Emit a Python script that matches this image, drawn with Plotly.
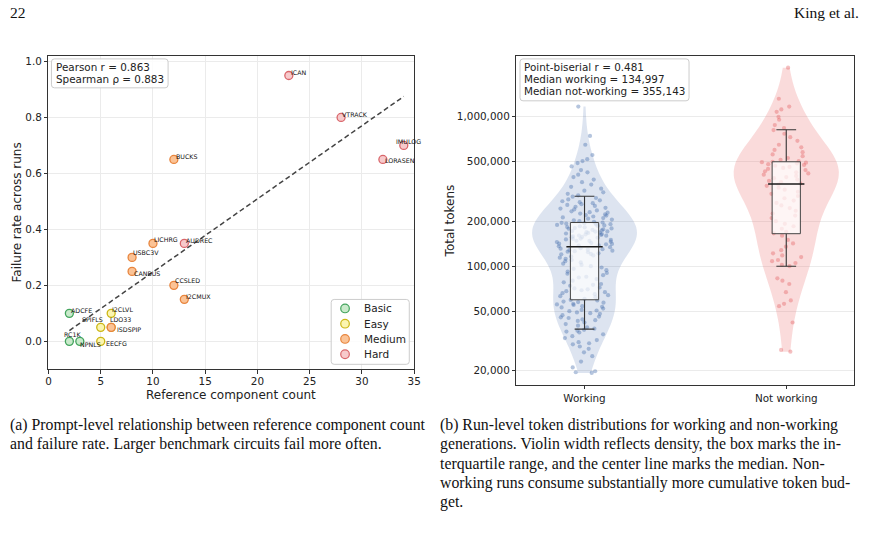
import numpy as np
import plotly.graph_objects as go

W, H = 872, 541

# ---------------- Data: panel (a) ----------------
circuits = ["ADCFE", "RC1K", "NPNLS", "SPIFLS", "EECFG", "I2CLVL", "LDO33", "ISDSPIP",
            "CANBUS", "USBC3V", "LICHRG", "AUDREC", "CCSLED", "I2CMUX", "BUCKS",
            "ICAN", "VTRACK", "IMULOG", "LORASEN"]
component_count = [2, 2, 3, 5, 5, 6, 6, 6, 8, 8, 10, 13, 12, 13, 12, 23, 28, 34, 32]
failure_rate = [0.10, 0.00, 0.00, 0.05, 0.00, 0.10, 0.05, 0.05, 0.25, 0.30, 0.35, 0.35,
                0.20, 0.15, 0.65, 0.95, 0.80, 0.70, 0.65]
difficulty = ["Basic", "Basic", "Basic", "Easy", "Easy", "Easy", "Easy", "Medium",
              "Medium", "Medium", "Medium", "Hard", "Medium", "Medium", "Medium",
              "Hard", "Hard", "Hard", "Hard"]
difficulty_levels = ["Basic", "Easy", "Medium", "Hard"]
x_ticks_a = [0, 5, 10, 15, 20, 25, 30, 35]
y_ticks_a = [0.0, 0.2, 0.4, 0.6, 0.8, 1.0]

# ---------------- Data: panel (b) (tokens, thousands) ----------------
working_k = [
    19.3, 19.5, 19.8, 21, 23, 25, 26.5, 28, 29, 30, 30.5, 31, 32, 33, 34, 35, 36, 36.5, 37, 37.5,
    38.2, 39, 40, 41, 42, 43, 43.5, 44, 45, 45.5, 46, 47, 48, 48.5, 49, 50, 50.5, 51, 52, 53,
    53.5, 54, 55, 55.5, 56, 57, 57.5, 58, 59, 59.5,
    60.5, 62, 63, 64, 65, 66, 67, 68, 69, 70, 71, 72, 74, 75, 76, 78, 80, 82, 84, 85,
    87, 89, 90, 92, 94, 96, 98, 100, 102, 104, 106, 108, 110, 112, 114, 116, 118, 120, 121, 122,
    124, 125, 126, 127, 128, 129, 130, 131, 132, 134,
    136, 137.5, 138, 140, 141, 141.5, 143, 145, 146, 147.5, 148, 150, 151, 152.5, 153, 155, 156,
    157, 158.5, 160, 160.5, 162, 163, 164, 165.5, 167, 168, 169, 170.5, 171, 172, 174, 175, 176.5,
    178, 179, 180, 182, 183, 185, 186, 187.5, 189, 190, 191, 192.5, 193, 194, 195, 196,
    198, 200, 203, 205, 208, 210, 212, 215, 218, 220, 222, 225, 228, 230, 233, 236, 240, 243,
    246, 250, 253, 257, 260, 264, 268, 272, 276, 280, 286, 292,
    298, 305, 312, 320, 330, 340, 352, 365, 380, 395, 410, 425, 440, 465, 490, 505, 520, 555,
    650, 745, 1170]
not_working_k = [
    26.8, 27.5, 42, 54, 56, 59, 67, 76, 80, 83,
    100, 102, 105, 108, 110, 115, 118, 122, 128, 135, 142, 150, 160,
    166, 170, 178, 185, 192, 200, 210, 218, 225, 235, 245, 255, 265, 275, 285, 295, 305, 315,
    325, 335, 345, 352,
    358, 365, 372, 380, 388, 395, 402, 410, 418, 425, 432, 440, 448, 455, 462, 470, 476, 482,
    488, 493, 497, 500,
    505, 515, 530, 545, 560, 580, 600, 625, 650, 690, 730, 770, 815,
    840, 880, 955, 1000, 1080, 1120, 1170, 1320, 2130]
groups_b = ["Working", "Not working"]
# box statistics (whisker low, q1, median, q3, whisker high)
box_whisker_lo = [37900, 100000]
box_q1 = [59600, 165000]
box_median = [134997, 355143]
box_q3 = [196000, 500000]
box_whisker_hi = [294000, 818000]
y_ticks_b = [20000, 50000, 100000, 200000, 500000, 1000000]
y_ticks_b_text = ["20,000", "50,000", "100,000", "200,000", "500,000", "1,000,000"]

# ---------------- Styles ----------------
FONT = "DejaVu Sans"
SERIF = "Liberation Serif"
TXT = "#222222"
diff_fill = {"Basic": "#c9eacb", "Easy": "#fbf5b0", "Medium": "#fbc396", "Hard": "#f7cacc"}
diff_edge = {"Basic": "#43a45d", "Easy": "#ccb716", "Medium": "#e8853d", "Hard": "#d9666b"}
label_offsets = {  # (dx px, dy px up, anchor)
    "LICHRG": (1, 4, "left"), "AUDREC": (2, 3, "left"), "USBC3V": (1, 5, "left"),
    "CANBUS": (2, -2, "left"), "CCSLED": (1, 5, "left"), "I2CMUX": (2, 3, "left"),
    "ADCFE": (2, 3, "left"), "I2CLVL": (1, 4, "left"), "SPIFLS": (2, 8, "right"),
    "LDO33": (-1, 8, "left"), "ISDSPIP": (6, -2, "left"), "RC1K": (-5, 7, "left"),
    "NPNLS": (0, -3, "left"), "EECFG": (5, -2, "left"), "ICAN": (2, 3, "left"),
    "VTRACK": (1, 3, "left"), "IMULOG": (-8, 4, "left"), "LORASEN": (2, -1, "left"),
    "BUCKS": (2, 3, "left"),
}


def px(x):
    return x / W


def py(y):
    return 1 - y / H


def rounded_rect(x0, y0, x1, y1, r=3):
    pts = [
        f"M {px(x0 + r)} {py(y0)}", f"L {px(x1 - r)} {py(y0)}",
        f"Q {px(x1)} {py(y0)} {px(x1)} {py(y0 + r)}", f"L {px(x1)} {py(y1 - r)}",
        f"Q {px(x1)} {py(y1)} {px(x1 - r)} {py(y1)}", f"L {px(x0 + r)} {py(y1)}",
        f"Q {px(x0)} {py(y1)} {px(x0)} {py(y1 - r)}", f"L {px(x0)} {py(y0 + r)}",
        f"Q {px(x0)} {py(y0)} {px(x0 + r)} {py(y0)} Z",
    ]
    return " ".join(pts)


def note(x, y, text, size, family=FONT, anchor="left", color=TXT, angle=0):
    return dict(x=px(x), y=py(y), xref="paper", yref="paper", text=text, showarrow=False,
                xanchor=anchor, yanchor="middle", borderpad=0, borderwidth=0, textangle=angle,
                font=dict(family=family, size=size, color=color))


fig = go.Figure()

# ---------------- Panel (a) ----------------
xa = np.array(component_count, dtype=float)
ya = np.array(failure_rate, dtype=float)
slope, intercept = np.polyfit(xa, ya, 1)
xfit = np.array([xa.min(), xa.max()])
fig.add_trace(go.Scatter(x=xfit, y=slope * xfit + intercept, mode="lines",
                         line=dict(color="#444444", width=1.5, dash="5px,3px"),
                         xaxis="x", yaxis="y", showlegend=False, hoverinfo="skip"))
for lvl in difficulty_levels:
    idx = [i for i, d in enumerate(difficulty) if d == lvl]
    fig.add_trace(go.Scatter(
        x=[component_count[i] for i in idx], y=[failure_rate[i] for i in idx],
        mode="markers", name=lvl, showlegend=False,
        marker=dict(size=8, color=diff_fill[lvl], line=dict(color=diff_edge[lvl], width=1.3)),
        xaxis="x", yaxis="y"))

annotations = []
for i, name in enumerate(circuits):
    dx, dy, anc = label_offsets[name]
    annotations.append(dict(x=component_count[i], y=failure_rate[i], xref="x", yref="y",
                            text=name, showarrow=False, xanchor=anc, yanchor="middle",
                            xshift=dx, yshift=dy, borderpad=0, borderwidth=0,
                            font=dict(family=FONT, size=6.3, color="#111111")))

# ---------------- Panel (b) ----------------
violin_fill = ["rgba(76,114,176,0.19)", "rgba(235,110,110,0.25)"]
point_col = ["rgba(70,110,172,0.40)", "rgba(228,98,100,0.40)"]
for gi, vals in enumerate([working_k, not_working_k]):
    lv = np.log10(np.array(vals) * 1000.0)
    fig.add_trace(go.Violin(
        y=lv, x0=gi, name=groups_b[gi], width=0.52, scalemode="width", spanmode="hard",
        fillcolor=violin_fill[gi], line=dict(color="rgba(0,0,0,0)", width=0),
        points="all", pointpos=0, jitter=0.55,
        marker=dict(size=4.2, color=point_col[gi], line=dict(width=0)),
        box_visible=False, meanline_visible=False, showlegend=False, hoverinfo="y",
        xaxis="x2", yaxis="y2"))

bw, mw, cw = 0.07, 0.09, 0.049
for gi in range(2):
    c = gi
    q1, q3 = np.log10(box_q1[gi]), np.log10(box_q3[gi])
    lo, hi = np.log10(box_whisker_lo[gi]), np.log10(box_whisker_hi[gi])
    md = np.log10(box_median[gi])
    fig.add_trace(go.Scatter(x=[c, c, None, c, c], y=[q1, lo, None, q3, hi], mode="lines",
                             line=dict(color="#333333", width=1.1), xaxis="x2", yaxis="y2",
                             showlegend=False, hoverinfo="skip"))
    fig.add_trace(go.Scatter(x=[c - cw, c + cw, None, c - cw, c + cw], y=[lo, lo, None, hi, hi],
                             mode="lines", line=dict(color="#333333", width=1.1),
                             xaxis="x2", yaxis="y2", showlegend=False, hoverinfo="skip"))
    fig.add_trace(go.Scatter(x=[c - bw, c + bw, c + bw, c - bw, c - bw], y=[q1, q1, q3, q3, q1],
                             mode="lines", fill="toself", fillcolor="rgba(255,255,255,0.72)",
                             line=dict(color="#444444", width=1.0), xaxis="x2", yaxis="y2",
                             showlegend=False, hoverinfo="skip"))
    fig.add_trace(go.Scatter(x=[c - mw, c + mw], y=[md, md], mode="lines",
                             line=dict(color="#1a1a1a", width=1.6), xaxis="x2", yaxis="y2",
                             showlegend=False, hoverinfo="skip"))

shapes = []
box_style = dict(xref="paper", yref="paper", line=dict(color="#cccccc", width=1),
                 fillcolor="rgba(255,255,255,0.85)", layer="above")
shapes.append(dict(type="path", path=rounded_rect(49, 58, 167, 87), **box_style))
shapes.append(dict(type="path", path=rounded_rect(523, 58, 694, 100), **box_style))
shapes.append(dict(type="path", path=rounded_rect(332, 299, 411, 364), **box_style))
for k, lvl in enumerate(difficulty_levels):
    cy = 308 + k * 15.3
    shapes.append(dict(type="circle", xref="paper", yref="paper", xsizemode="pixel", ysizemode="pixel",
                       xanchor=px(346), yanchor=py(cy), x0=-4.3, x1=4.3, y0=-4.3, y1=4.3,
                       fillcolor=diff_fill[lvl], line=dict(color=diff_edge[lvl], width=1.2), layer="above"))
    annotations.append(note(365, cy, lvl, 10.5))

for k, t in enumerate(["Pearson r = 0.863", "Spearman ρ = 0.883"]):
    annotations.append(note(54, 66 + k * 11.7, t, 10.4))
for k, t in enumerate(["Point-biserial r = 0.481", "Median working = 134,997",
                       "Median not-working = 355,143"]):
    annotations.append(note(527, 66 + k * 12, t, 10.4))

# axis titles
annotations.append(note(231, 394.5, "Reference component count", 12, anchor="center"))
annotations.append(note(14, 212, "Failure rate across runs", 12, anchor="center", angle=-90))
annotations.append(note(452, 220, "Total tokens", 12, anchor="center", angle=-90))

# page header + captions
annotations.append(note(7, 12, "22", 15.5, family=SERIF, color="#111"))
annotations.append(note(866, 12, "King et al.", 15.5, family=SERIF, anchor="right", color="#111"))
cap_a = ["(a) Prompt-level relationship between reference component count",
         "and failure rate. Larger benchmark circuits fail more often."]
cap_b = ["(b) Run-level token distributions for working and non-working",
         "generations. Violin width reflects density, the box marks the in-",
         "terquartile range, and the center line marks the median. Non-",
         "working runs consume substantially more cumulative token bud-",
         "get."]
for k, t in enumerate(cap_a):
    annotations.append(note(7, 425 + k * 19.3, t, 15.8, family=SERIF, color="#111"))
for k, t in enumerate(cap_b):
    annotations.append(note(442, 425 + k * 19.3, t, 15.8, family=SERIF, color="#111"))

axis_common = dict(showline=True, mirror=True, linecolor="#333333", linewidth=1,
                   ticks="outside", ticklen=3.5, tickwidth=0.9, tickcolor="#333333",
                   tickfont=dict(family=FONT, size=10.4, color=TXT), zeroline=False)

fig.update_layout(
    width=W, height=H, margin=dict(l=0, r=0, t=0, b=0),
    paper_bgcolor="white", plot_bgcolor="white", showlegend=False,
    xaxis=dict(domain=[px(46), px(416)], range=[0, 35], tickvals=x_ticks_a, ticklabelstandoff=-1,
               showgrid=True, gridcolor="#ebebeb", gridwidth=0.8, anchor="y", **axis_common),
    yaxis=dict(domain=[py(369), py(55)], range=[-0.1, 1.02], tickvals=y_ticks_a, tickformat=".1f",
               showgrid=True, gridcolor="#ebebeb", gridwidth=0.8, anchor="x", **axis_common),
    xaxis2=dict(domain=[px(519.3), px(860.7)], range=[-0.338, 1.335], tickvals=[0, 1],
                ticktext=groups_b, showgrid=False, anchor="y2", **axis_common),
    yaxis2=dict(domain=[py(384.3), py(55)], range=[4.2075, 6.4075],
                tickvals=list(np.log10(y_ticks_b)), ticktext=y_ticks_b_text,
                showgrid=True, gridcolor="#ebebeb", gridwidth=0.8, anchor="x2", **axis_common),
    annotations=annotations, shapes=shapes,
)

fig.write_html("out.html")
